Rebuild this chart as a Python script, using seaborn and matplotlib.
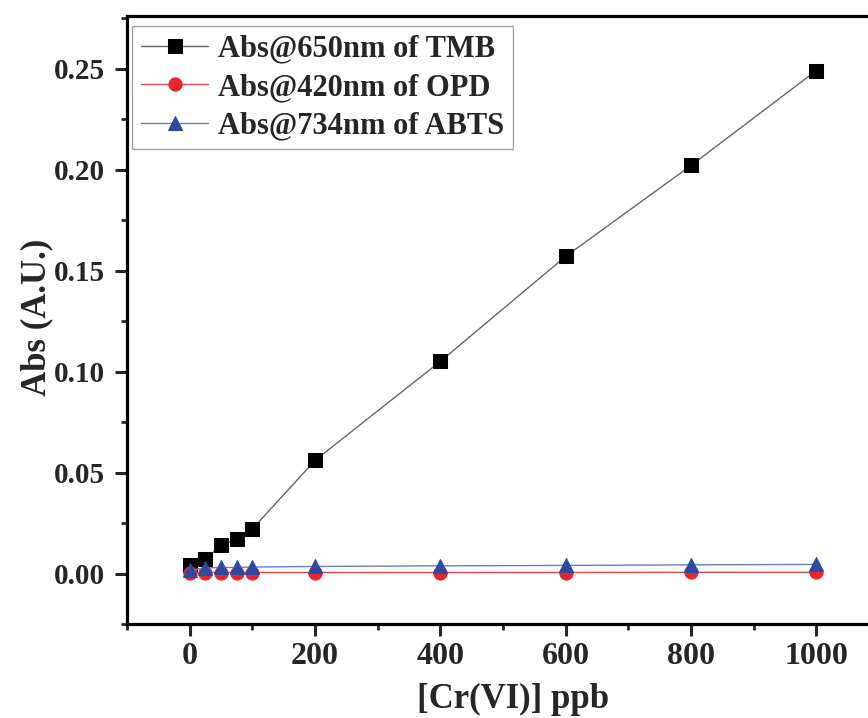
import matplotlib
matplotlib.use("Agg")
import matplotlib.pyplot as plt
import seaborn as sns
import pandas as pd
from matplotlib.ticker import MultipleLocator

conc = [0, 25, 50, 75, 100, 200, 400, 600, 800, 1000]
tmb = [0.004, 0.007, 0.014, 0.017, 0.022, 0.056, 0.105, 0.157, 0.202, 0.249]
opd = [0.0005, 0.0005, 0.0005, 0.0005, 0.0005, 0.0005, 0.0005, 0.0005, 0.0006, 0.0006]
abts = [0.0015, 0.0028, 0.003, 0.003, 0.0032, 0.0035, 0.0038, 0.004, 0.0043, 0.0045]
labels = ["Abs@650nm of TMB", "Abs@420nm of OPD", "Abs@734nm of ABTS"]
line_colors = ["#666666", "#e8464a", "#6a7fc0"]
marker_colors = ["#000000", "#e8262b", "#2b4aa0"]
markers = ["s", "o", "^"]

sns.set_theme(style="ticks")
plt.rcParams["font.family"] = ["Liberation Serif", "DejaVu Serif"]
plt.rcParams["font.weight"] = "bold"

fig = plt.figure(figsize=(8.68, 7.18), dpi=100)
ax = fig.add_axes([0.1463, 0.1309, 0.8664, 0.8468])

for ys, lab, lc, mc, mk in zip([tmb, opd, abts], labels, line_colors, marker_colors, markers):
    df = pd.DataFrame({"x": conc, "y": ys})
    sns.lineplot(data=df, x="x", y="y", ax=ax, label=lab, color=lc, linewidth=1.0,
                 marker=mk, markersize=9.5, markerfacecolor=mc, markeredgecolor=mc)

ax.set_xlim(-100, 1100)
ax.set_ylim(-0.025, 0.276)
ax.xaxis.set_major_locator(MultipleLocator(200))
ax.xaxis.set_minor_locator(MultipleLocator(100))
ax.yaxis.set_major_locator(MultipleLocator(0.05))
ax.yaxis.set_minor_locator(MultipleLocator(0.025))
ax.yaxis.set_major_formatter(matplotlib.ticker.FormatStrFormatter("%.2f"))
ax.tick_params(which="major", direction="out", length=8.6, width=2.2)
ax.tick_params(axis="x", which="major", labelsize=23, pad=4)
ax.tick_params(axis="y", which="major", labelsize=21, pad=7)
ax.tick_params(which="minor", direction="out", length=4.5, width=2.0)
for t in ax.get_xticklabels() + ax.get_yticklabels():
    t.set_fontweight("bold")
for s in ax.spines.values():
    s.set_linewidth(2.3)
    s.set_color("black")

ax.set_xlabel("[Cr(VI)] ppb", fontsize=25, fontweight="bold")
ax.set_ylabel("Abs (A.U.)", fontsize=25, fontweight="bold")
ax.xaxis.set_label_coords(0.513, -0.097)
ax.yaxis.set_label_coords(-0.098, 0.504)

leg = ax.legend(loc="upper left", bbox_to_anchor=(0.0066, 0.984), fontsize=22, frameon=True,
                fancybox=False, edgecolor="#888888", handlelength=2.2, handletextpad=0.3,
                borderpad=0.3, labelspacing=0.3, borderaxespad=0.0)
leg.get_frame().set_linewidth(1.0)
for t in leg.get_texts():
    t.set_fontweight("bold")

fig.savefig("out.png", dpi=100)
